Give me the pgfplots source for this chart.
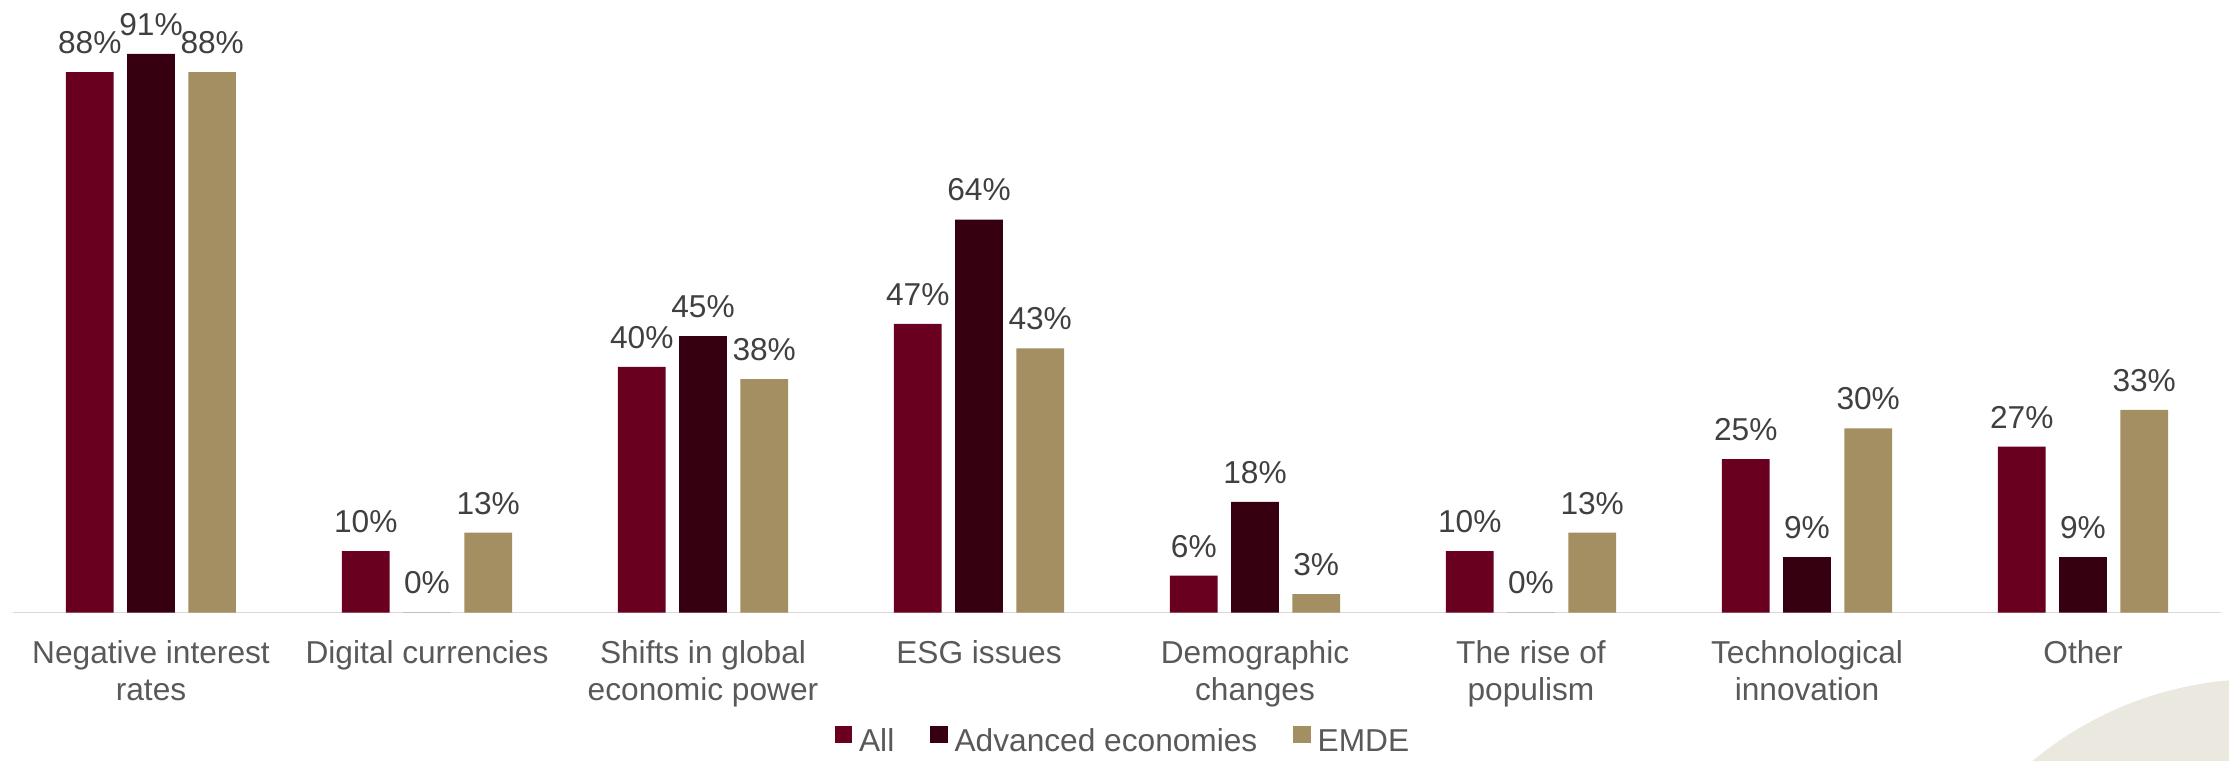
\documentclass[border=0pt]{standalone}
\usepackage{fontspec}
\setmainfont{Liberation Sans}
\usepackage{pgfplots}
\pgfplotsset{compat=1.18}
\definecolor{cAll}{HTML}{6A001F}
\definecolor{cAdv}{HTML}{370010}
\definecolor{cEM}{HTML}{A38F61}
\definecolor{axgray}{HTML}{D9D9D9}
\definecolor{txtgray}{HTML}{595959}
\definecolor{lblgray}{HTML}{404040}
\definecolor{circ}{HTML}{EBE8DF}
\begin{document}
\begin{tikzpicture}
\useasboundingbox (-3.9pt,-44.25pt) rectangle (664.8pt,183.75pt);
\begin{scope}
\clip (-3.9pt,-44.25pt) rectangle (664.8pt,183.75pt);
\fill[circ] (674.1pt,-127.05pt) circle (107.1pt);
\end{scope}
\begin{axis}[
  at={(0pt,0pt)}, anchor=south west,
  scale only axis,
  width=662.4pt, height=184.2pt,
  xmin=-0.5, xmax=7.5, ymin=0, ymax=100,
  ybar=4.08pt, bar width=14.28pt,
  axis x line*=bottom, axis y line=none,
  x axis line style={draw=axgray, line width=0.5pt, -},
  xtick={0,...,7},
  xticklabels={{Negative interest\\rates},{Digital currencies},{Shifts in global\\economic power},{ESG issues},{Demographic\\changes},{The rise of\\populism},{Technological\\innovation},{Other}},
  xticklabel style={align=center, anchor=north, inner sep=0pt, yshift=-8.25pt, font=\fontsize{9.5}{11}\selectfont, text=txtgray},
  major tick length=0pt,
  xtick style={draw=none},
  /pgf/number format/assume math mode=true,
  nodes near coords={\pgfmathprintnumber{\pgfplotspointmeta}\%},
  every node near coord/.append style={anchor=base, inner sep=0pt, yshift=5.6pt, font=\fontsize{9.5}{11}\selectfont, text=lblgray},
  clip=false,
  legend columns=3,
  legend style={at={(0.5,0)}, anchor=south, yshift=-43.5pt, xshift=1.5pt, draw=none, fill=none, inner sep=0pt, font=\fontsize{9.5}{11}\selectfont, text=txtgray,
    nodes={inner sep=0pt},
    /tikz/every odd column/.append style={column sep=2.1pt},
    /tikz/every even column/.append style={column sep=10.8pt}},
]
\addplot[fill=cAll, draw=none, legend image code/.code={\fill[cAll] (0pt,0pt) rectangle (5.2pt,5.2pt);}] coordinates {(0,88) (1,10) (2,40) (3,47) (4,6) (5,10) (6,25) (7,27)};
\addplot[fill=cAdv, draw=none, legend image code/.code={\fill[cAdv] (0pt,0pt) rectangle (5.2pt,5.2pt);}] coordinates {(0,91) (1,0) (2,45) (3,64) (4,18) (5,0) (6,9) (7,9)};
\addplot[fill=cEM, draw=none, legend image code/.code={\fill[cEM] (0pt,0pt) rectangle (5.2pt,5.2pt);}] coordinates {(0,88) (1,13) (2,38) (3,43) (4,3) (5,13) (6,30) (7,33)};
\legend{All, Advanced economies, EMDE}
\end{axis}
\end{tikzpicture}
\end{document}
